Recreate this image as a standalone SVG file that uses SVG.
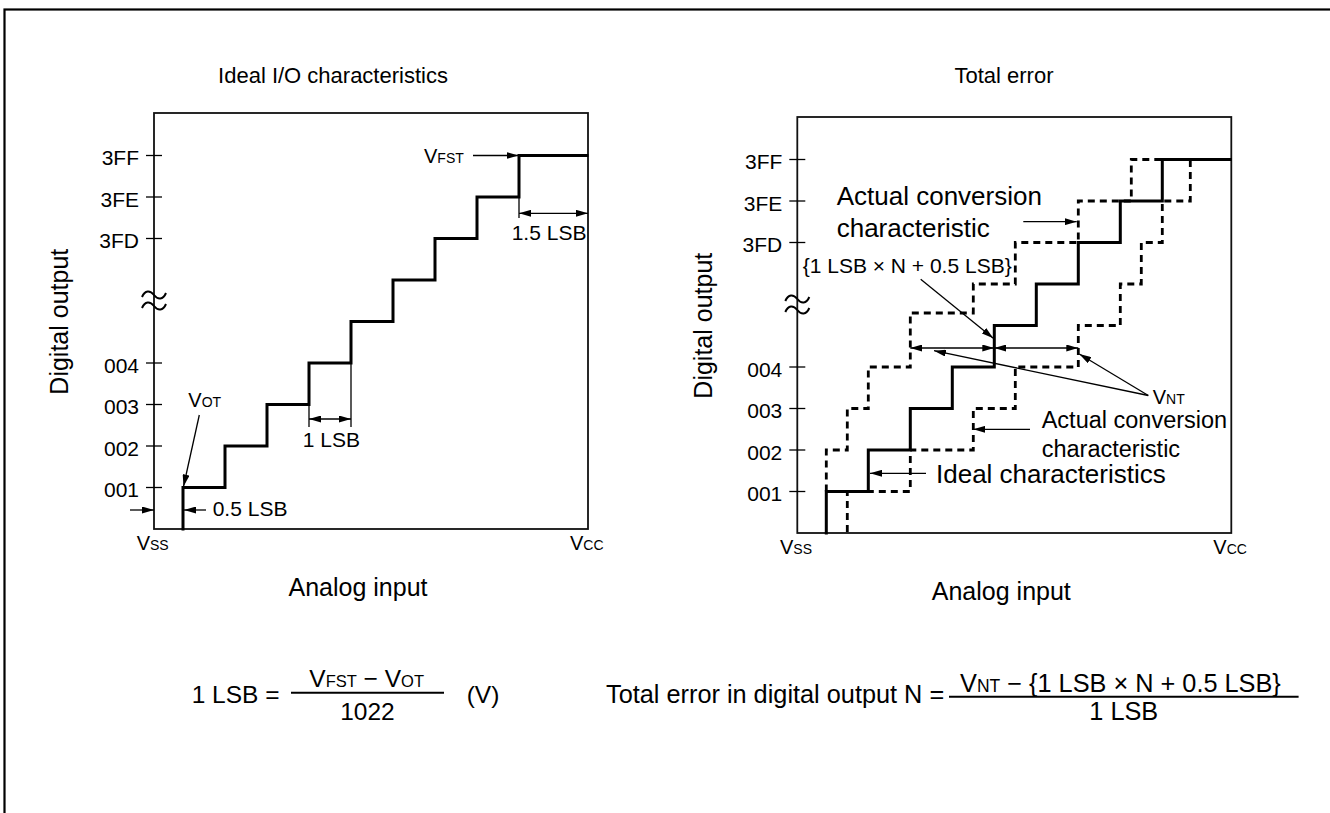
<svg xmlns="http://www.w3.org/2000/svg" width="1330" height="813" viewBox="0 0 1330 813">
  <style>
    text { font-family: "Liberation Sans", Arial, Helvetica, sans-serif; fill: #000; }
    .tick-label { font-size: 21px; text-anchor: end; }
    .title { font-size: 22px; text-anchor: middle; }
    .axis-title { font-size: 25px; text-anchor: middle; }
    .lbl { font-size: 21px; }
    .v { font-size: 20px; }
    .sub { font-size: 14px; }
    .big { font-size: 26px; }
    .mid { font-size: 23.5px; }
    .formula { font-size: 24.5px; }
    .formula-w { font-size: 25.3px; }
    .fsub { font-size: 16.5px; }
    .fsub-w { font-size: 17.5px; }
    .frame { fill: none; stroke: #111; stroke-width: 1.8; }
    .tick { stroke: #000; stroke-width: 1.3; }
    .step { fill: none; stroke: #000; stroke-width: 3; stroke-linejoin: miter; stroke-linecap: square; }
    .dash { fill: none; stroke: #000; stroke-width: 2.8; stroke-dasharray: 7 5; }
    .thin { fill: none; stroke: #000; stroke-width: 1.3; }
    .arr { fill: none; stroke: #000; stroke-width: 1.3; marker-end: url(#ah); }
    .arr2 { fill: none; stroke: #000; stroke-width: 1.3; marker-start: url(#ah); marker-end: url(#ah); }
    .brk { fill: none; stroke: #000; stroke-width: 2; }
    .bar { stroke: #000; stroke-width: 2; }
  </style>
  <defs>
    <marker id="ah" markerUnits="userSpaceOnUse" markerWidth="12" markerHeight="7" refX="12" refY="3.5" orient="auto-start-reverse" viewBox="0 0 12 7">
      <path d="M0,0 L12,3.5 L0,7 z" fill="#000"/>
    </marker>
    <!-- axis break mark: two stacked wavy strokes -->
    <g id="break">
      <path class="brk" d="M142,297 C145,290 150,290 154,295 S163,300 166,293"/>
      <path class="brk" d="M142,308 C145,301 150,301 154,306 S163,311 166,304"/>
    </g>
  </defs>

  <!-- outer border -->
  <rect id="border" x="4.5" y="9.5" width="1340" height="820" fill="none" stroke="#000" stroke-width="2.2"/>

  <!-- ===== Ideal I/O characteristics ===== -->
  <g id="chart-ideal">
    <text class="title" x="333" y="83">Ideal I/O characteristics</text>
    <rect class="frame" x="154" y="113" width="434" height="416"/>
    <g id="ideal-ticks">
      <line class="tick" x1="146" y1="155.5" x2="162" y2="155.5"/>
      <line class="tick" x1="146" y1="197" x2="162" y2="197"/>
      <line class="tick" x1="146" y1="238.5" x2="162" y2="238.5"/>
      <line class="tick" x1="146" y1="363" x2="162" y2="363"/>
      <line class="tick" x1="146" y1="404.5" x2="162" y2="404.5"/>
      <line class="tick" x1="146" y1="446" x2="162" y2="446"/>
      <line class="tick" x1="146" y1="487.5" x2="162" y2="487.5"/>
      <text class="tick-label" x="139" y="165">3FF</text>
      <text class="tick-label" x="139" y="206.5">3FE</text>
      <text class="tick-label" x="139" y="248">3FD</text>
      <text class="tick-label" x="139" y="372.5">004</text>
      <text class="tick-label" x="139" y="414">003</text>
      <text class="tick-label" x="139" y="455.5">002</text>
      <text class="tick-label" x="139" y="497">001</text>
    </g>
    <use href="#break"/>
    <text class="axis-title" transform="translate(68.3,321.7) rotate(-90)">Digital output</text>
    <text class="axis-title" x="358" y="596">Analog input</text>
    <text class="v" x="136.7" y="550">V<tspan class="sub">SS</tspan></text>
    <text class="v" x="570" y="550">V<tspan class="sub">CC</tspan></text>
    <path class="step" d="M183,529 V487.5 H225 V446 H267 V404.5 H309 V363 H351 V321.5 H393 V280 H435 V238.5 H477 V197 H519 V155.5 H587"/>
    <!-- dimension extension lines -->
    <line class="thin" x1="309" y1="404.5" x2="309" y2="427"/>
    <line class="thin" x1="351" y1="363" x2="351" y2="427"/>
    <line class="thin" x1="519" y1="197" x2="519" y2="218"/>
    <text class="v" x="424" y="162.7">V<tspan class="sub">FST</tspan></text>
    <text class="v" x="188.3" y="407.3">V<tspan class="sub">OT</tspan></text>
    <text class="lbl" x="302.7" y="447.3">1 LSB</text>
    <text class="lbl" x="511.7" y="240">1.5 LSB</text>
    <text class="lbl" x="212.7" y="515.7">0.5 LSB</text>
  </g>

  <!-- ===== Total error ===== -->
  <g id="chart-total" transform="translate(643.3,4)">
    <text class="title" x="360.7" y="79">Total error</text>
    <rect class="frame" x="154" y="113" width="434" height="416"/>
    <g id="total-ticks">
      <line class="tick" x1="146" y1="155.5" x2="162" y2="155.5"/>
      <line class="tick" x1="146" y1="197" x2="162" y2="197"/>
      <line class="tick" x1="146" y1="238.5" x2="162" y2="238.5"/>
      <line class="tick" x1="146" y1="363" x2="162" y2="363"/>
      <line class="tick" x1="146" y1="404.5" x2="162" y2="404.5"/>
      <line class="tick" x1="146" y1="446" x2="162" y2="446"/>
      <line class="tick" x1="146" y1="487.5" x2="162" y2="487.5"/>
      <text class="tick-label" x="139" y="165">3FF</text>
      <text class="tick-label" x="139" y="206.5">3FE</text>
      <text class="tick-label" x="139" y="248">3FD</text>
      <text class="tick-label" x="139" y="372.5">004</text>
      <text class="tick-label" x="139" y="414">003</text>
      <text class="tick-label" x="139" y="455.5">002</text>
      <text class="tick-label" x="139" y="497">001</text>
    </g>
    <use href="#break"/>
    <text class="axis-title" transform="translate(68.3,321.7) rotate(-90)">Digital output</text>
    <text class="axis-title" x="358" y="596">Analog input</text>
    <text class="v" x="136.7" y="550">V<tspan class="sub">SS</tspan></text>
    <text class="v" x="570" y="550">V<tspan class="sub">CC</tspan></text>
    <!-- ideal staircase -->
    <path class="step" d="M183,529 V487.5 H225 V446 H267 V404.5 H309 V363 H351 V321.5 H393 V280 H435 V238.5 H477 V197 H519 V155.5 H587"/>
    <!-- actual conversion characteristics -->
    <path class="dash" d="M183,487.5 V446 H204 V404.5 H225 V363 H267 V309 H330 V280 H372 V238.5 H435 V197 H488 V155.5 H519"/>
    <path class="dash" d="M204,528 V487.5 H267 V446 H330 V404.5 H372 V363 H435 V321.5 H477 V280 H498 V238.5 H519 V197 H547 V155.5 H587"/>
    <text class="lbl" x="159.4" y="269">{1 LSB × N + 0.5 LSB}</text>
    <text class="big" x="193.4" y="201">Actual conversion</text>
    <text class="big" x="193.4" y="232.7">characteristic</text>
    <text class="v" x="509.4" y="399.5">V<tspan class="sub">NT</tspan></text>
    <text class="mid" x="398.4" y="423.5">Actual conversion</text>
    <text class="mid" x="398.4" y="453">characteristic</text>
    <text class="big" x="292.7" y="479.3">Ideal characteristics</text>
  </g>

  <!-- ===== connectors: arrows and dimension lines ===== -->
  <g id="connectors">
    <!-- ideal chart -->
    <line class="arr" x1="473" y1="155.5" x2="518.5" y2="155.5"/>
    <line class="arr2" x1="519" y1="213.3" x2="588" y2="213.3"/>
    <line class="arr2" x1="309" y1="419" x2="351" y2="419"/>
    <line class="arr" x1="199.3" y1="415" x2="183.5" y2="486.5"/>
    <line class="arr" x1="130" y1="510" x2="154" y2="510"/>
    <line class="arr" x1="206" y1="510" x2="184" y2="510"/>
    <!-- total error chart -->
    <g transform="translate(643.3,4)">
      <line class="arr2" x1="267" y1="344" x2="351" y2="344"/>
      <line class="arr2" x1="351" y1="344" x2="435" y2="344"/>
      <line class="arr" x1="505" y1="391.5" x2="436" y2="350"/>
      <line class="arr" x1="505" y1="391.5" x2="290.7" y2="346.7"/>
      <line class="arr" x1="277.4" y1="275.3" x2="350" y2="334.3"/>
      <line class="arr" x1="380" y1="217.7" x2="433.4" y2="217.7"/>
      <line class="arr" x1="386.7" y1="425.3" x2="330" y2="425.3"/>
      <line class="arr" x1="282.7" y1="469.3" x2="226.7" y2="469.3"/>
    </g>
  </g>

  <!-- ===== formulas ===== -->
  <g id="formula-lsb">
    <text class="formula" x="191.7" y="703.3">1 LSB =</text>
    <text class="formula" x="309.3" y="686.7">V<tspan class="fsub">FST</tspan> − V<tspan class="fsub">OT</tspan></text>
    <line class="bar" x1="291" y1="692.7" x2="444" y2="692.7"/>
    <text class="formula" x="367.5" y="720" text-anchor="middle">1022</text>
    <text class="formula" x="466.7" y="703.3">(V)</text>
  </g>
  <g id="formula-total">
    <text class="formula-w" x="606" y="703.3">Total error in digital output N =</text>
    <text class="formula-w" x="960" y="691.7">V<tspan class="fsub-w">NT</tspan> − {1 LSB × N + 0.5 LSB}</text>
    <line class="bar" x1="949" y1="696.7" x2="1298.6" y2="696.7"/>
    <text class="formula-w" x="1123.8" y="720" text-anchor="middle">1 LSB</text>
  </g>
</svg>
